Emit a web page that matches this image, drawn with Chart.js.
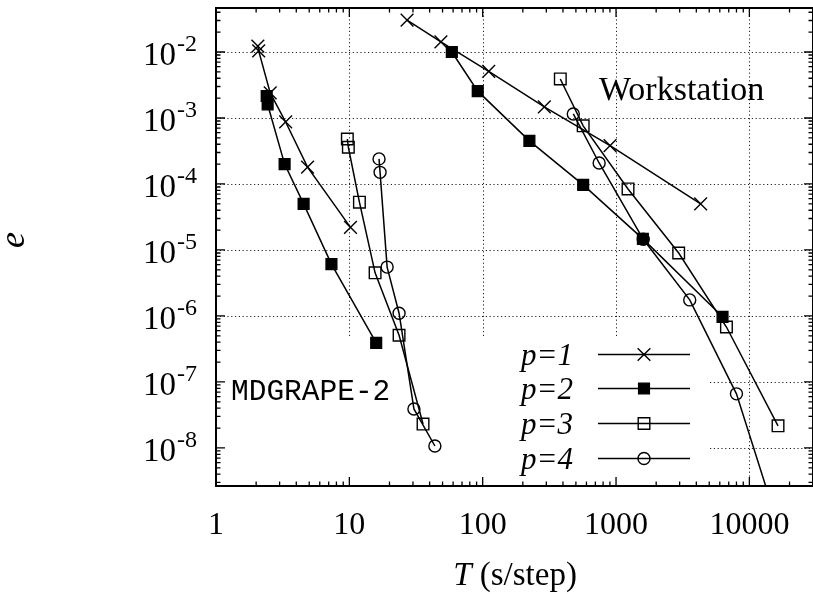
<!DOCTYPE html>
<html><head><meta charset="utf-8">
<script src="https://cdn.jsdelivr.net/npm/chart.js@4/dist/chart.umd.min.js"></script>
<style>html,body{margin:0;padding:0;background:#fff;overflow:hidden}#wrap{width:813px;height:594px}</style>
</head><body><div id="wrap"><canvas id="c" width="813" height="594"></canvas></div>
<script>
// ---- tick labels ----
const xTickValues = [1, 10, 100, 1000, 10000];
const xTickLabels = ['1', '10', '100', '1000', '10000'];
const yTickExponents = [-2, -3, -4, -5, -6, -7, -8];
const seriesNames = ['p=1', 'p=2', 'p=3', 'p=4'];

// ---- MDGRAPE-2 (T in s/step, e) ----
const mdT_p1 = [2.06, 2.09, 2.55, 3.33, 4.86, 10.2];
const mdE_p1 = [1.23e-2, 1.04e-2, 2.4e-3, 8.7e-4, 1.8e-4, 2.2e-5];
const mdT_p2 = [2.40, 2.44, 3.27, 4.54, 7.34, 15.9];
const mdE_p2 = [2.15e-3, 1.6e-3, 2.0e-4, 5.0e-5, 6.1e-6, 3.9e-7];
const mdT_p3 = [9.66, 9.83, 11.9, 15.6, 23.6, 35.7];
const mdE_p3 = [4.8e-4, 3.6e-4, 5.3e-5, 4.5e-6, 5.1e-7, 2.3e-8];
const mdT_p4 = [16.7, 17.0, 19.2, 23.6, 30.5, 43.8];
const mdE_p4 = [2.4e-4, 1.5e-4, 5.5e-6, 1.1e-6, 3.9e-8, 1.07e-8];

// ---- Workstation ----
const wsT_p1 = [27.1, 48.6, 111, 290, 902, 4310];
const wsE_p1 = [3.05e-2, 1.42e-2, 5.1e-3, 1.47e-3, 3.8e-4, 5.0e-5];
const wsT_p2 = [58.7, 91.8, 224, 567, 1590, 6290];
const wsE_p2 = [1.0e-2, 2.55e-3, 4.5e-4, 9.7e-5, 1.47e-5, 9.7e-7];
const wsT_p3 = [382, 567, 1230, 2950, 6730, 16400];
const wsE_p3 = [3.9e-3, 7.6e-4, 8.4e-5, 9.0e-6, 6.8e-7, 2.16e-8];
const wsT_p4 = [478, 747, 1600, 3570, 8000, 16000];
const wsE_p4 = [1.15e-3, 2.08e-4, 1.45e-5, 1.75e-6, 6.6e-8, 8e-10];

const X_MIN = 1, X_MAX = 30000, Y_MIN = 2.65e-9, Y_MAX = 0.0464;

const styles = [
  {pointStyle: 'crossRot', pointRadius: 9, pointBackgroundColor: 'rgba(0,0,0,0)'},
  {pointStyle: 'rect', pointRadius: 7.6, pointBackgroundColor: '#000'},
  {pointStyle: 'rect', pointRadius: 8.2, pointBackgroundColor: 'rgba(0,0,0,0)'},
  {pointStyle: 'circle', pointRadius: 6, pointBackgroundColor: 'rgba(0,0,0,0)'}
];

function pts(T, E) { return T.map((t, i) => ({x: t, y: E[i]})); }
function ds(label, T, E, k) {
  return Object.assign({
    label: label, data: pts(T, E), showLine: true,
    borderColor: '#000', borderWidth: 1.5, pointBorderColor: '#000',
    pointBorderWidth: 1.4, pointHoverRadius: 0, tension: 0
  }, styles[k]);
}

const datasets = [
  ds('MDGRAPE-2 ' + seriesNames[0], mdT_p1, mdE_p1, 0),
  ds('MDGRAPE-2 ' + seriesNames[1], mdT_p2, mdE_p2, 1),
  ds('MDGRAPE-2 ' + seriesNames[2], mdT_p3, mdE_p3, 2),
  ds('MDGRAPE-2 ' + seriesNames[3], mdT_p4, mdE_p4, 3),
  ds('Workstation ' + seriesNames[0], wsT_p1, wsE_p1, 0),
  ds('Workstation ' + seriesNames[1], wsT_p2, wsE_p2, 1),
  ds('Workstation ' + seriesNames[2], wsT_p3, wsE_p3, 2),
  ds('Workstation ' + seriesNames[3], wsT_p4, wsE_p4, 3)
];

const SERIF = '"Liberation Serif", "Times New Roman", serif';
const MONO = '"Liberation Mono", "Courier New", monospace';
const BLANK = {x0: 216, x1: 710, y0: 337};
const AREA = {left: 216, right: 816, top: 8, bottom: 486};

const framePlugin = {
  id: 'frame',
  beforeDatasetsDraw(chart) {
    const {ctx, chartArea: a, scales: {x, y}} = chart;
    ctx.save();
    ctx.strokeStyle = '#222';
    ctx.lineWidth = 1;
    ctx.setLineDash([1.2, 2.6]);
    xTickValues.forEach(v => {
      const px = Math.round(x.getPixelForValue(v)) + 0.5;
      if (px <= a.left + 2 || px >= a.right - 2) return;
      const yEnd = (px < BLANK.x1) ? BLANK.y0 : a.bottom;
      ctx.beginPath(); ctx.moveTo(px, a.top); ctx.lineTo(px, yEnd); ctx.stroke();
    });
    yTickExponents.forEach(e => {
      const py = Math.round(y.getPixelForValue(Math.pow(10, e))) + 0.5;
      const xStart = (py > BLANK.y0) ? BLANK.x1 : a.left;
      ctx.beginPath(); ctx.moveTo(xStart, py); ctx.lineTo(a.right, py); ctx.stroke();
    });
    ctx.restore();
  },
  afterDatasetsDraw(chart) {
    const {ctx, chartArea: a, scales: {x, y}} = chart;
    ctx.save();
    // border
    ctx.strokeStyle = '#000';
    ctx.lineWidth = 2;
    ctx.strokeRect(a.left, a.top, a.right - a.left, a.bottom - a.top);
    // ticks (inward, mirrored)
    ctx.lineWidth = 1.3;
    const MAJ = 9, MIN = 4.5;
    for (let d = 0; d <= 4; d++) {
      for (let m = 1; m <= 9; m++) {
        const v = m * Math.pow(10, d);
        if (v < X_MIN || v > X_MAX) continue;
        const px = x.getPixelForValue(v);
        const L = m === 1 ? MAJ : MIN;
        ctx.beginPath();
        ctx.moveTo(px, a.bottom); ctx.lineTo(px, a.bottom - L);
        ctx.moveTo(px, a.top); ctx.lineTo(px, a.top + L);
        ctx.stroke();
      }
    }
    for (let d = -9; d <= -2; d++) {
      for (let m = 1; m <= 9; m++) {
        const v = m * Math.pow(10, d);
        if (v < Y_MIN || v > Y_MAX) continue;
        const py = y.getPixelForValue(v);
        const L = m === 1 ? MAJ : MIN;
        ctx.beginPath();
        ctx.moveTo(a.left, py); ctx.lineTo(a.left + L, py);
        ctx.moveTo(a.right, py); ctx.lineTo(a.right - L, py);
        ctx.stroke();
      }
    }
    // y tick labels 10^n
    ctx.fillStyle = '#000';
    ctx.textBaseline = 'alphabetic';
    ctx.textAlign = 'left';
    yTickExponents.forEach(e => {
      const py = y.getPixelForValue(Math.pow(10, e));
      ctx.font = '33px ' + SERIF;
      const w10 = ctx.measureText('10').width;
      ctx.font = '24px ' + SERIF;
      const sup = String(e);
      const ws = ctx.measureText(sup).width;
      const x0 = a.left - 20 - (w10 + ws);
      ctx.font = '33px ' + SERIF;
      ctx.fillText('10', x0, py + 13);
      ctx.font = '24px ' + SERIF;
      ctx.fillText(sup, x0 + w10 + 1, py - 1);
    });
    // x tick labels
    ctx.textAlign = 'center';
    ctx.font = '32px ' + SERIF;
    xTickValues.forEach((v, i) => {
      ctx.fillText(xTickLabels[i], x.getPixelForValue(v), 534);
    });
    ctx.textAlign = 'left';
    // x axis title: T (s/step)
    ctx.font = 'italic 33px ' + SERIF;
    const wT = ctx.measureText('T').width;
    ctx.font = '33px ' + SERIF;
    const rest = ' (s/step)';
    const wR = ctx.measureText(rest).width;
    const cx = 515;
    const tx0 = cx - (wT + wR) / 2;
    ctx.font = 'italic 33px ' + SERIF;
    ctx.fillText('T', tx0, 585);
    ctx.font = '33px ' + SERIF;
    ctx.fillText(rest, tx0 + wT, 585);
    // annotations
    ctx.font = '34px ' + SERIF;
    ctx.fillText('Workstation', 599, 100);
    ctx.font = '29.5px ' + MONO;
    ctx.fillText('MDGRAPE-2', 231, 400);
    // legend
    const legY = [354, 388, 423, 458];
    for (let k = 0; k < 4; k++) {
      const ly = legY[k];
      ctx.textAlign = 'right';
      ctx.fillStyle = '#000';
      ctx.font = 'italic 31px ' + SERIF;
      ctx.fillText(seriesNames[k], 573, ly + 11);
      ctx.strokeStyle = '#000';
      ctx.lineWidth = 1.5;
      ctx.beginPath(); ctx.moveTo(598, ly + 0.5); ctx.lineTo(690, ly + 0.5); ctx.stroke();
      const st = styles[k];
      ctx.fillStyle = st.pointBackgroundColor;
      ctx.strokeStyle = '#000';
      ctx.lineWidth = 1.4;
      Chart.helpers.drawPoint(ctx, {
        pointStyle: st.pointStyle, radius: st.pointRadius, rotation: 0, borderWidth: 1.4
      }, 644, ly + 0.5);
    }
    ctx.restore();
  }
};

new Chart(document.getElementById('c'), {
  type: 'scatter',
  data: {datasets: datasets},
  options: {
    responsive: false,
    animation: false,
    devicePixelRatio: 1,
    layout: {
      autoPadding: false,
      padding: {top: AREA.top, right: 813 - AREA.right, left: AREA.left, bottom: 594 - AREA.bottom}
    },
    plugins: {legend: {display: false}, tooltip: {enabled: false}},
    scales: {
      x: {type: 'logarithmic', min: X_MIN, max: X_MAX, display: false},
      y: {type: 'logarithmic', min: Y_MIN, max: Y_MAX, display: false}
    }
  },
  plugins: [framePlugin, {
    id: 'ytitle',
    afterDraw(chart) {
      const ctx = chart.ctx;
      ctx.save();
      ctx.translate(15, 240);
      ctx.rotate(-Math.PI / 2);
      ctx.font = 'italic 36px ' + SERIF;
      ctx.textAlign = 'center';
      ctx.textBaseline = 'middle';
      ctx.fillStyle = '#000';
      ctx.fillText('e', 0, 0);
      ctx.restore();
    }
  }]
});
</script></body></html>
